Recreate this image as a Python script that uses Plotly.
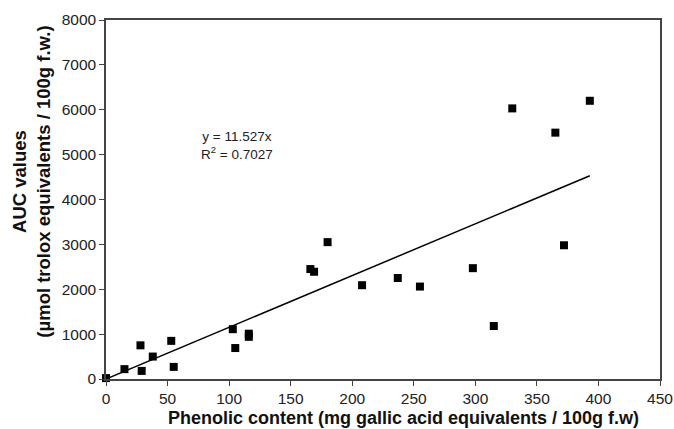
import plotly.graph_objects as go

# Data
phenolic = [0, 15, 28, 29, 38, 53, 55, 103, 105, 116, 116, 166, 169, 180,
            208, 237, 255, 298, 315, 330, 365, 372, 393]
auc = [20, 220, 750, 180, 500, 850, 270, 1110, 690, 1010, 940, 2450, 2390, 3050,
       2090, 2250, 2060, 2470, 1180, 6030, 5490, 2980, 6200]
slope = 11.527
r2 = 0.7027
fit_x = [0, 393]
fit_y = [slope * v for v in fit_x]

x_ticks = [0, 50, 100, 150, 200, 250, 300, 350, 400, 450]
y_ticks = [0, 1000, 2000, 3000, 4000, 5000, 6000, 7000, 8000]

FONT = "Liberation Sans, Arial, sans-serif"

fig = go.Figure()
fig.add_trace(go.Scatter(x=fit_x, y=fit_y, mode="lines",
                         line=dict(color="black", width=1.5),
                         showlegend=False, hoverinfo="skip"))
fig.add_trace(go.Scatter(x=phenolic, y=auc, mode="markers",
                         marker=dict(symbol="square", size=8, color="black"),
                         showlegend=False, cliponaxis=False))

fig.update_layout(
    width=674, height=429,
    margin=dict(l=106, r=14, t=20, b=50),
    paper_bgcolor="white", plot_bgcolor="white",
    font=dict(family=FONT, color="#222"),
    xaxis=dict(range=[0, 450], tickvals=x_ticks, ticks="outside", ticklen=5,
               tickwidth=1.2, tickcolor="#444", showgrid=False, zeroline=False,
               showline=True, linecolor="#444", linewidth=1.5, mirror=True,
               automargin=False,
               tickfont=dict(size=15.5, color="#222")),
    yaxis=dict(range=[0, 8000], tickvals=y_ticks, ticks="outside", ticklen=5,
               tickwidth=1.2, tickcolor="#444", showgrid=False, zeroline=False,
               showline=True, linecolor="#444", linewidth=1.5, mirror=True,
               automargin=False,
               tickfont=dict(size=15.5, color="#222")),
    annotations=[
        dict(text="y = 11.527x<br>R<sup>2</sup> = 0.7027", x=106, y=5200,
             xref="x", yref="y", showarrow=False,
             font=dict(size=13.5, color="#222", family=FONT)),
        dict(text="<b>Phenolic content (mg gallic acid equivalents / 100g f.w)</b>",
             x=0.537, y=-0.0763, xref="paper", yref="paper", yanchor="top",
             showarrow=False, font=dict(size=18, color="#111", family=FONT)),
        dict(text="<b>AUC values<br>(µmol trolox equivalents / 100g f.w.)</b>",
             x=-0.091, y=0.55, xref="paper", yref="paper", xanchor="right",
             textangle=-90, showarrow=False,
             font=dict(size=18.5, color="#111", family=FONT)),
    ],
)

fig.write_html(
    "out.html",
    config={"displayModeBar": False},
    post_script="document.body.style.margin='0';document.body.style.overflow='hidden';",
)
